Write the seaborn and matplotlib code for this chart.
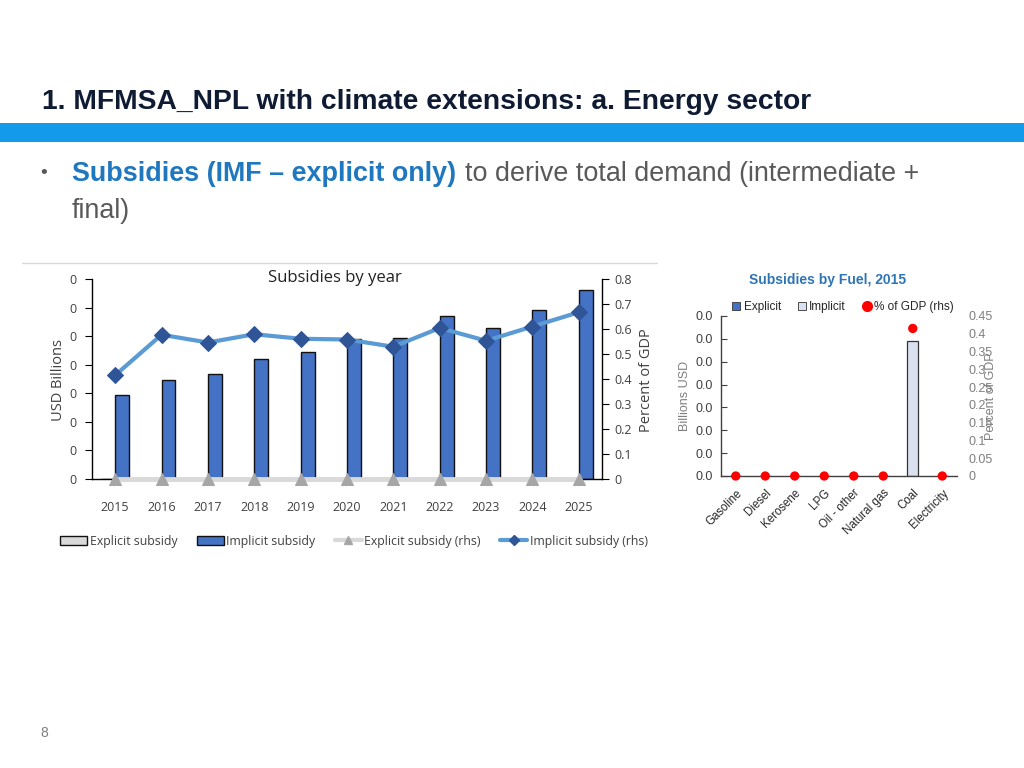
import numpy as np
import pandas as pd
import matplotlib
matplotlib.use("Agg")
import matplotlib.pyplot as plt
from matplotlib.lines import Line2D
from matplotlib.patches import Patch
from matplotlib.ticker import FuncFormatter, MultipleLocator
import seaborn as sns

# ---------------- data ----------------
years = ["2015", "2016", "2017", "2018", "2019", "2020", "2021", "2022", "2023", "2024", "2025"]
explicit_usd = [0, 0, 0, 0, 0, 0, 0, 0, 0, 0, 0]
implicit_usd = [0.0295, 0.0346, 0.0367, 0.0419, 0.0443, 0.0490, 0.0493, 0.0569, 0.0527, 0.0590, 0.0662]
explicit_pct = [0, 0, 0, 0, 0, 0, 0, 0, 0, 0, 0]
implicit_pct = [0.415, 0.577, 0.546, 0.579, 0.561, 0.558, 0.529, 0.604, 0.553, 0.610, 0.667]

fuels = ["Gasoline", "Diesel", "Kerosene", "LPG", "Oil - other", "Natural gas", "Coal", "Electricity"]
fuel_explicit = [0, 0, 0, 0, 0, 0, 0, 0]
fuel_implicit = [0, 0, 0, 0, 0, 0, 0.0295, 0]
fuel_pct_gdp = [0, 0, 0, 0, 0, 0, 0.415, 0]

sns.set_theme(style="white")
plt.rcParams["font.family"] = ["Open Sans", "DejaVu Sans"]

W, H = 1024, 768
fig = plt.figure(figsize=(W / 100, H / 100), dpi=100)
fig.patch.set_facecolor("white")

def fx(px):
    return px / W

def fy(py):
    return 1 - py / H

slide_font = ["Liberation Sans Narrow", "Liberation Sans", "DejaVu Sans"]
arial = ["Liberation Sans", "DejaVu Sans"]

# ---------------- slide decorations ----------------
fig.text(fx(42), fy(102), "1. MFMSA_NPL with climate extensions: a. Energy sector",
         family=slide_font, fontsize=20.3, fontweight="bold", color="#0E1B33",
         va="center", ha="left")
fig.patches.append(plt.Rectangle((0, fy(142)), 1, (142 - 123) / H, transform=fig.transFigure,
                                 facecolor="#149AEA", edgecolor="none"))
fig.text(fx(40), fy(174), "•", family=arial, fontsize=14,
         color="#595959", va="center", ha="left")
fig.text(fx(72), fy(174), "Subsidies (IMF – explicit only)",
         family=slide_font, fontsize=19.4, fontweight="bold", color="#1F78BF",
         va="center", ha="left")
fig.text(fx(465), fy(174), "to derive total demand (intermediate +",
         family=slide_font, fontsize=19.4, color="#595959", va="center", ha="left")
fig.text(fx(72), fy(211), "final)",
         family=slide_font, fontsize=19.4, color="#595959", va="center", ha="left")
fig.text(fx(44), fy(733), "8", family=arial, fontsize=10,
         color="#7F7F7F", va="center", ha="center")
fig.lines.append(Line2D([fx(22), fx(657)], [fy(263), fy(263)], transform=fig.transFigure,
                        color="#D9D9D9", lw=1))

# ---------------- left chart: subsidies by year ----------------
ax1 = fig.add_axes([fx(92), fy(479), fx(602) - fx(92), (479 - 279) / H])
df_year = pd.DataFrame({
    "year": years * 2,
    "value": explicit_usd + implicit_usd,
    "series": ["Explicit subsidy"] * len(years) + ["Implicit subsidy"] * len(years),
})
sns.barplot(data=df_year, x="year", y="value", hue="series", ax=ax1, width=0.6,
            palette={"Explicit subsidy": "#D9D9D9", "Implicit subsidy": "#4472C4"},
            edgecolor="#111111", linewidth=1.0, legend=False, saturation=1)
ax1.set_xlim(-0.5, len(years) - 0.5)
ax1.set_ylim(0, 0.07)
ax1.yaxis.set_major_locator(MultipleLocator(0.01))
ax1.yaxis.set_major_formatter(FuncFormatter(lambda v, p: "%.0f" % v))
ax1.set_xlabel("")
ax1.set_ylabel("")
for s in ["top", "right"]:
    ax1.spines[s].set_visible(False)
for s in ["left", "bottom"]:
    ax1.spines[s].set_color("#000000")
    ax1.spines[s].set_linewidth(1.0)
ax1.tick_params(axis="y", which="major", left=True, length=5, width=0.8, color="#000000",
                labelsize=9, labelcolor="#404040", pad=6)
ax1.tick_params(axis="x", bottom=False, labelsize=9, labelcolor="#404040", pad=10)

ax1b = ax1.twinx()
xpos = np.arange(len(years))
sns.lineplot(x=xpos, y=explicit_pct, ax=ax1b, color="#D9D9D9", lw=3.5, sort=False,
             marker="^", markersize=9, markerfacecolor="#A6A6A6", markeredgecolor="#A6A6A6",
             clip_on=False, zorder=3)
sns.lineplot(x=xpos, y=implicit_pct, ax=ax1b, color="#5B9BD5", lw=3, sort=False,
             marker="D", markersize=8, markerfacecolor="#2F5597", markeredgecolor="#2F5597",
             clip_on=False, zorder=4)
ax1b.set_ylim(0, 0.8)
ax1b.set_xlim(-0.5, len(years) - 0.5)
ax1b.yaxis.set_major_locator(MultipleLocator(0.1))
ax1b.yaxis.set_major_formatter(FuncFormatter(lambda v, p: "0" if abs(v) < 1e-9 else "%.1f" % v))
for s in ["top", "left", "bottom"]:
    ax1b.spines[s].set_visible(False)
ax1b.spines["right"].set_color("#000000")
ax1b.spines["right"].set_linewidth(1.0)
ax1b.tick_params(axis="y", right=True, length=5, width=0.8, color="#000000",
                 labelsize=9, labelcolor="#404040", pad=4)
ax1b.set_ylabel("")

fig.text(fx(335), fy(278), "Subsidies by year", fontsize=12, color="#222222",
         ha="center", va="center")
fig.text(fx(59), fy(380), "USD Billions", fontsize=10.5, color="#404040", rotation=90,
         ha="center", va="center")
fig.text(fx(647), fy(380), "Percent of GDP", fontsize=10.5, color="#404040", rotation=90,
         ha="center", va="center")

handles1 = [
    Patch(facecolor="#D9D9D9", edgecolor="#111111", label="Explicit subsidy"),
    Patch(facecolor="#4472C4", edgecolor="#111111", label="Implicit subsidy"),
    Line2D([], [], color="#D9D9D9", lw=3, marker="^", markersize=6,
           markerfacecolor="#A6A6A6", markeredgecolor="#A6A6A6", label="Explicit subsidy (rhs)"),
    Line2D([], [], color="#5B9BD5", lw=3, marker="D", markersize=5,
           markerfacecolor="#2F5597", markeredgecolor="#2F5597", label="Implicit subsidy (rhs)"),
]
fig.legend(handles=handles1, loc="center", bbox_to_anchor=(fx(354), fy(541)), ncol=4,
           frameon=False, fontsize=8.8, handlelength=2.2, handleheight=0.8,
           handletextpad=0.2, columnspacing=1.6, labelcolor="#404040")

# ---------------- right chart: subsidies by fuel ----------------
ax2 = fig.add_axes([fx(721), fy(476), fx(957) - fx(721), (476 - 316) / H])
df_fuel = pd.DataFrame({"fuel": fuels, "explicit": fuel_explicit, "implicit": fuel_implicit})
sns.barplot(data=df_fuel, x="fuel", y="explicit", ax=ax2, color="#4472C4", width=0.37,
            edgecolor="#333333", linewidth=0.8, saturation=1)
sns.barplot(data=df_fuel, x="fuel", y="implicit", ax=ax2, color="#DAE1F0", width=0.37,
            edgecolor="#333333", linewidth=0.9, saturation=1)
ax2.set_xlim(-0.5, len(fuels) - 0.5)
ax2.set_ylim(0, 0.035)
ax2.yaxis.set_major_locator(MultipleLocator(0.005))
ax2.yaxis.set_major_formatter(FuncFormatter(lambda v, p: "%.1f" % v))
ax2.set_xlabel("")
ax2.set_ylabel("")
for s in ["top", "right"]:
    ax2.spines[s].set_visible(False)
for s in ["left", "bottom"]:
    ax2.spines[s].set_color("#404040")
    ax2.spines[s].set_linewidth(1.0)
ax2.tick_params(axis="y", left=True, direction="in", length=4, width=0.8, color="#404040",
                labelsize=9, labelcolor="#404040", pad=6)
for lab in ax2.get_yticklabels():
    lab.set_family(arial)
ax2.tick_params(axis="x", bottom=False, pad=2)
ax2.set_xticks(range(len(fuels)))
ax2.set_xticklabels(fuels, rotation=45, ha="right", rotation_mode="anchor",
                    fontsize=8.3, color="#262626", family=arial)

ax2b = ax2.twinx()
sns.scatterplot(x=np.arange(len(fuels)), y=fuel_pct_gdp, ax=ax2b, color="#FF0000", s=45,
                edgecolor="none", clip_on=False, zorder=5)
ax2b.set_ylim(0, 0.45)
ax2b.set_xlim(-0.5, len(fuels) - 0.5)
ax2b.yaxis.set_major_locator(MultipleLocator(0.05))
ax2b.yaxis.set_major_formatter(FuncFormatter(lambda v, p: "%g" % round(v, 2)))
for s in ["top", "left", "bottom", "right"]:
    ax2b.spines[s].set_visible(False)
ax2b.tick_params(axis="y", right=False, labelsize=9, labelcolor="#7F7F7F", pad=2)
for lab in ax2b.get_yticklabels():
    lab.set_family(arial)
ax2b.set_ylabel("")

fig.text(fx(828), fy(280), "Subsidies by Fuel, 2015", family=arial, fontsize=10,
         fontweight="bold", color="#2E75B6", ha="center", va="center")
fig.text(fx(685), fy(396), "Billions USD", family=arial, fontsize=9, color="#7F7F7F",
         rotation=90, ha="center", va="center")
fig.text(fx(991), fy(396), "Percent of GDP", family=arial, fontsize=9, color="#7F7F7F",
         rotation=90, ha="center", va="center")

handles2 = [
    Line2D([], [], lw=0, marker="s", markersize=6, markerfacecolor="#4472C4",
           markeredgecolor="#333333", markeredgewidth=0.6, label="Explicit"),
    Line2D([], [], lw=0, marker="s", markersize=6, markerfacecolor="#DAE1F0",
           markeredgecolor="#333333", markeredgewidth=0.6, label="Implicit"),
    Line2D([], [], lw=0, marker="o", markersize=7, markerfacecolor="#FF0000",
           markeredgecolor="#FF0000", label="% of GDP (rhs)"),
]
leg2 = fig.legend(handles=handles2, loc="center", bbox_to_anchor=(fx(843), fy(307)), ncol=3,
                  frameon=False, handlelength=0.7, handletextpad=0.3,
                  columnspacing=1.4, prop={"family": arial, "size": 8.5})
for t in leg2.get_texts():
    t.set_color("#262626")

fig.savefig("out.png", dpi=100, facecolor="white")
